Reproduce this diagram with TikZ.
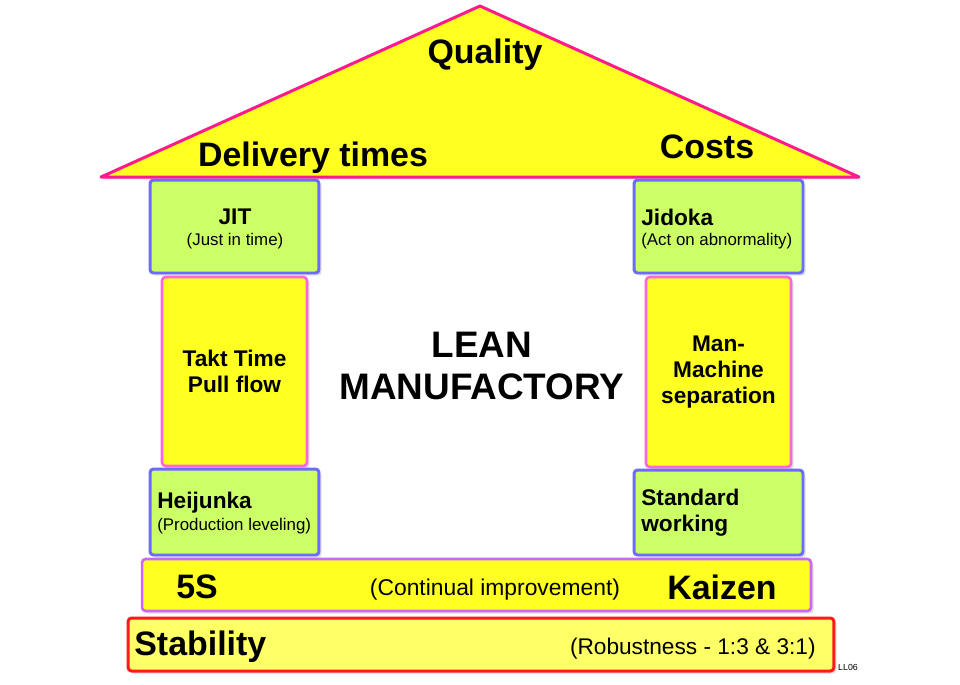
\documentclass[tikz,border=0pt]{standalone}
\usepackage{fontspec}
\setmainfont{Liberation Sans}
\usetikzlibrary{shadows}

\definecolor{roofpink}{HTML}{FF1A8C}
\definecolor{housey}{HTML}{FFFF22}
\definecolor{paley}{HTML}{FFFF66}
\definecolor{leafg}{HTML}{CCFF66}
\definecolor{boxblue}{HTML}{6B6BFF}
\definecolor{colpink}{HTML}{FF66DD}
\definecolor{barviolet}{HTML}{CC66FF}
\definecolor{basered}{HTML}{FF1A1A}

\tikzset{
  shade/.style={drop shadow={opacity=0.25, shadow xshift=1.5pt, shadow yshift=-1.5pt}},
  greenbox/.style={draw=boxblue, fill=leafg, line width=1.7pt, rounded corners=2pt, shade},
  colbox/.style={draw=colpink, fill=housey, line width=1.5pt, rounded corners=2pt, shade},
  big/.style={font=\fontsize{19.3}{23}\selectfont\bfseries, inner sep=0pt},
  mid/.style={font=\fontsize{12.9}{15}\selectfont\bfseries, inner sep=0pt, align=center},
  sub/.style={font=\fontsize{9.6}{11}\selectfont, inner sep=0pt},
}

\begin{document}
\begin{tikzpicture}[x=0.02cm, y=-0.02cm]
    \useasboundingbox[fill=white] (0,0) rectangle (960,684);

    % roof
    \coordinate (L) at (101,177);
    \coordinate (T) at (480,6);
    \coordinate (R) at (859,177);
    \draw[draw=roofpink, fill=housey, line width=1.7pt, line join=round, shade] (L) -- (T) -- (R) -- cycle;
    \node[big] (quality) at (485,55) {Quality};
    \node[big] (delivery) at (313,158) {Delivery times};
    \node[big] (costs) at (707,147) {Costs};

    % left pillar
    \node[greenbox, minimum width=3.38cm, minimum height=1.86cm] (jit) at (234.5,226.5) {};
    \node[mid] (jitt) at (235,217) {JIT};
    \node[sub] (jits) at (235,241) {(Just in time)};
    \node[colbox, minimum width=2.9cm, minimum height=3.78cm, mid] (takt) at (234.5,371.5) {Takt Time\\Pull flow};
    \node[greenbox, minimum width=3.38cm, minimum height=1.72cm] (heij) at (234.5,512) {};
    \node[mid, anchor=west] (heijt) at (157,503) {Heijunka};
    \node[sub, anchor=west] (heijs) at (157,526) {(Production leveling)};

    % right pillar
    \node[greenbox, minimum width=3.38cm, minimum height=1.86cm] (jid) at (718.5,226.5) {};
    \node[mid, anchor=west] (jidt) at (641,217) {Jidoka};
    \node[sub, anchor=west] (jids) at (641,241) {(Act on abnormality)};
    \node[colbox, minimum width=2.9cm, minimum height=3.8cm, mid] (manm) at (718.5,372) {Man-\\Machine\\separation};
    \node[greenbox, minimum width=3.38cm, minimum height=1.7cm] (std) at (718.5,512.5) {};
    \node[mid, anchor=west, align=left] (stdt) at (641,513) {Standard\\working};

    % centre
    \node[font=\fontsize{21}{24.4}\selectfont\bfseries, align=center, inner sep=0pt] (lean) at (482,366) {LEAN\\MANUFACTORY};

    % 5S / Kaizen bar
    \node[draw=barviolet, fill=housey, line width=1.5pt, rounded corners=2pt, shade,
          minimum width=13.38cm, minimum height=1.04cm] (kaizen) at (476.5,585) {};
    \node[big] (fives) at (197,587) {5S};
    \node[font=\fontsize{13}{15}\selectfont, inner sep=0pt] (cont) at (495,590) {(Continual improvement)};
    \node[big] (kaiz) at (722,587) {Kaizen};

    % base
    \node[draw=basered, fill=paley, line width=1.7pt, rounded corners=2pt, shade,
          minimum width=14.12cm, minimum height=1.06cm] (base) at (481,644.5) {};
    \node[big, anchor=west] (stab) at (134,647) {Stability};
    \node[font=\fontsize{12.9}{15}\selectfont, inner sep=0pt, anchor=east] (rob) at (816,649) {(Robustness - 1:3 \& 3:1)};
    \node[font=\fontsize{5}{6}\selectfont, inner sep=0pt] (tag) at (848,667) {LL06};
\end{tikzpicture}
\end{document}
